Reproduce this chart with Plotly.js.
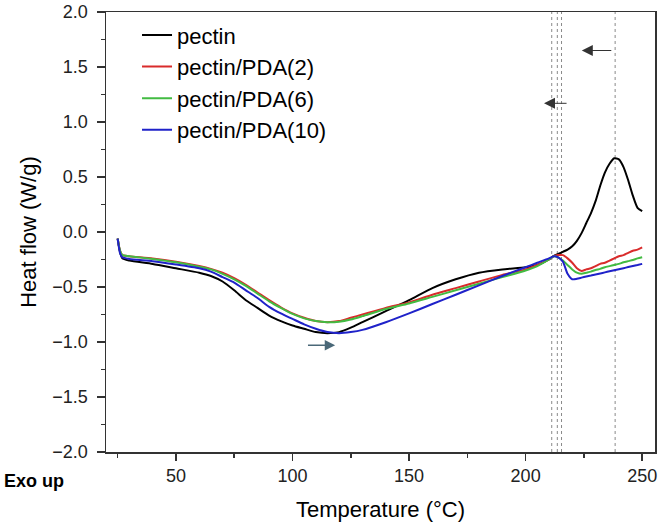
<!DOCTYPE html>
<html>
<head>
<meta charset="utf-8">
<script src="https://cdn.plot.ly/plotly-3.0.1.min.js"></script>
<style>
	body { margin: 0; padding: 0; background: #fff; }
	#chart { width: 658px; height: 525px; }
</style>
</head>
<body>
<div id="chart"></div>
<script>
// temperature grid (deg C)
var temps = [25, 26, 27, 30, 40, 50, 60, 65, 70, 75, 80, 85, 90, 95, 100, 105, 110, 115, 120, 125, 130, 140, 150, 160,
	170, 180, 190, 200, 205, 210, 212, 214, 216, 218, 220, 222, 224, 226, 228, 230, 232, 234, 236, 238,
	240, 242, 244, 246, 248, 250];

// heat flow (W/g)
var pectin = [-0.06, -0.18, -0.24, -0.26, -0.29, -0.33, -0.37, -0.40, -0.45, -0.53, -0.62, -0.69, -0.76, -0.81, -0.85, -0.88, -0.91, -0.92, -0.91, -0.87, -0.82, -0.72, -0.62, -0.51,
	-0.43, -0.37, -0.34, -0.32, -0.30, -0.25, -0.22, -0.20, -0.18, -0.16, -0.13, -0.08, -0.01, 0.08, 0.17, 0.28, 0.42, 0.54, 0.62, 0.67,
	0.66, 0.59, 0.47, 0.33, 0.22, 0.19];
var pda2 = [-0.06, -0.17, -0.21, -0.22, -0.24, -0.27, -0.31, -0.335, -0.37, -0.42, -0.48, -0.55, -0.62, -0.685, -0.74, -0.78, -0.81, -0.82, -0.81, -0.78, -0.75, -0.69, -0.64, -0.57,
	-0.51, -0.45, -0.39, -0.34, -0.30, -0.25, -0.22, -0.21, -0.21, -0.24, -0.28, -0.33, -0.355, -0.34, -0.33, -0.31, -0.29, -0.28, -0.26, -0.24,
	-0.22, -0.21, -0.19, -0.17, -0.16, -0.14];
var pda6 = [-0.06, -0.17, -0.21, -0.22, -0.245, -0.275, -0.315, -0.34, -0.38, -0.43, -0.49, -0.56, -0.63, -0.69, -0.745, -0.785, -0.81, -0.82, -0.815, -0.795, -0.765, -0.70, -0.65, -0.59,
	-0.53, -0.47, -0.41, -0.35, -0.31, -0.25, -0.22, -0.23, -0.26, -0.30, -0.34, -0.37, -0.38, -0.37, -0.36, -0.345, -0.335, -0.32, -0.31, -0.30,
	-0.29, -0.275, -0.265, -0.255, -0.24, -0.23];
var pda10 = [-0.06, -0.19, -0.23, -0.245, -0.265, -0.295, -0.33, -0.36, -0.41, -0.46, -0.53, -0.60, -0.68, -0.74, -0.79, -0.84, -0.88, -0.91, -0.92, -0.91, -0.89, -0.82, -0.74, -0.655,
	-0.57, -0.485, -0.40, -0.32, -0.28, -0.24, -0.22, -0.23, -0.27, -0.38, -0.43, -0.425, -0.415, -0.405, -0.396, -0.386, -0.377, -0.367, -0.357, -0.348,
	-0.338, -0.329, -0.319, -0.309, -0.30, -0.29];

var names = ["pectin", "pectin/PDA(2)", "pectin/PDA(6)", "pectin/PDA(10)"];
var colors = ["#000000", "#d92b2b", "#42bb42", "#1f22c9"];

// onset / peak temperatures marked with dotted lines
var markTemps = [211.2, 213.6, 215.4, 238.4];

var series = [pectin, pda2, pda6, pda10];
var data = [];
for (var i = 0; i < series.length; i++) {
	data.push({
		x: temps,
		y: series[i],
		mode: "lines",
		type: "scatter",
		name: names[i],
		line: {color: colors[i], width: 2, shape: "spline", smoothing: 0.6}
	});
}

var shapes = [];
for (var i = 0; i < markTemps.length; i++) {
	shapes.push({
		type: "line", xref: "x", yref: "paper",
		x0: markTemps[i], x1: markTemps[i], y0: 0, y1: 1,
		line: {color: "#8a8a8a", width: 1, dash: "dot"},
		layer: "below"
	});
}

var font = "Liberation Sans, Arial, sans-serif";

var annotations = [
	// arrows
	{x: 224.1, y: 1.65, ax: 237.4, ay: 1.65, xref: "x", yref: "y", axref: "x", ayref: "y",
		text: "", showarrow: true, arrowhead: 2, arrowsize: 2.2, arrowwidth: 1, arrowcolor: "#333"},
	{x: 207.9, y: 1.17, ax: 218.2, ay: 1.17, xref: "x", yref: "y", axref: "x", ayref: "y",
		text: "", showarrow: true, arrowhead: 2, arrowsize: 2.2, arrowwidth: 1, arrowcolor: "#333"},
	{x: 118.3, y: -1.03, ax: 106, ay: -1.03, xref: "x", yref: "y", axref: "x", ayref: "y",
		text: "", showarrow: true, arrowhead: 2, arrowsize: 1.3, arrowwidth: 1.6, arrowcolor: "#4a6878"},
	{x: -0.189, y: -0.066, xref: "paper", yref: "paper", xanchor: "left", yanchor: "middle",
		text: "<b>Exo up</b>", showarrow: false, font: {family: font, size: 18, color: "#000"}}
];

var layout = {
	width: 658,
	height: 525,
	margin: {l: 106, r: 3, t: 12, b: 73},
	paper_bgcolor: "#fff",
	plot_bgcolor: "#fff",
	font: {family: font, color: "#000"},
	showlegend: true,
	legend: {
		x: 0.0565, y: 0.995, xanchor: "left", yanchor: "top",
		bgcolor: "rgba(0,0,0,0)", font: {family: font, size: 22, color: "#000"}
	},
	xaxis: {
		range: [20, 255.5],
		dtick: 50,
		ticks: "outside", ticklen: 7, tickwidth: 1.5, tickcolor: "#333",
		minor: {dtick: 25, ticks: "outside", ticklen: 4, tickwidth: 1.5, tickcolor: "#333"},
		showline: true, linecolor: "#333", linewidth: 1.5, mirror: true,
		showgrid: false, zeroline: false,
		tickfont: {family: font, size: 18, color: "#222"},
		title: {text: "Temperature (°C)", font: {family: font, size: 22, color: "#000"}, standoff: 16}
	},
	yaxis: {
		range: [-2, 2],
		dtick: 0.5, tickformat: ".1f", ticksuffix: " ",
		ticks: "outside", ticklen: 8, tickwidth: 1.5, tickcolor: "#333",
		minor: {dtick: 0.25, ticks: "outside", ticklen: 4, tickwidth: 1.5, tickcolor: "#333"},
		showline: true, linecolor: "#333", linewidth: 1.5, mirror: true,
		showgrid: false, zeroline: false,
		tickfont: {family: font, size: 18, color: "#222"},
		ticklabeloverflow: "allow",
		title: {text: "Heat flow (W/g)", font: {family: font, size: 22, color: "#000"}, standoff: 9}
	},
	shapes: shapes,
	annotations: annotations
};

Plotly.newPlot("chart", data, layout, {displayModeBar: false, staticPlot: true});
</script>
</body>
</html>
